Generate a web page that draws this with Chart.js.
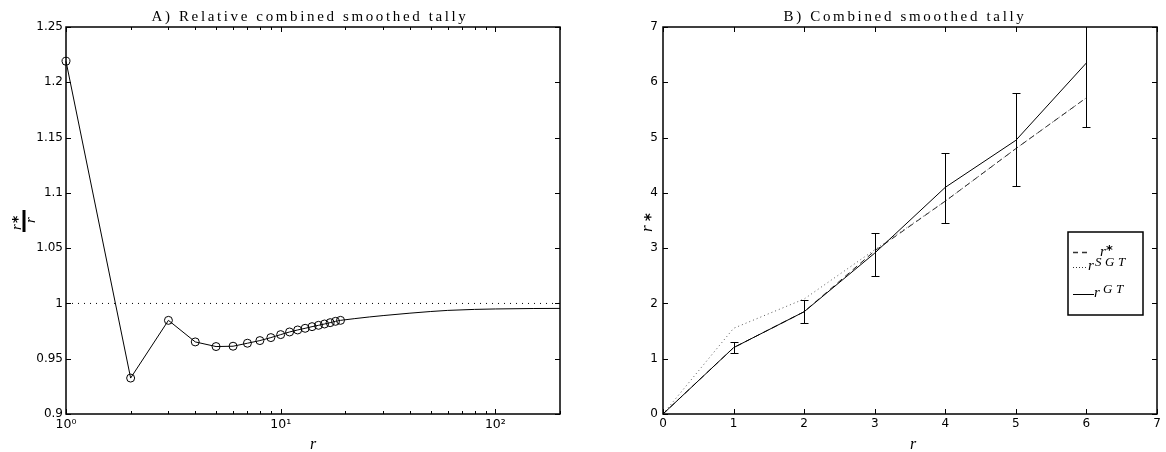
<!DOCTYPE html>
<html>
<head>
<meta charset="utf-8">
<script src="https://cdn.jsdelivr.net/npm/chart.js@4.4.1/dist/chart.umd.min.js"></script>
<style>
html, body { margin: 0; padding: 0; background: #fff; }
#wrap { position: relative; width: 1166px; height: 452px; }
.panel { position: absolute; top: 0; width: 583px; height: 452px; }
</style>
</head>
<body>
<div id="wrap">
  <div class="panel" style="left:0"><canvas id="chartA"></canvas></div>
  <div class="panel" style="left:583px"><canvas id="chartB"></canvas></div>
</div>
<script>
// ---- panel A: relative combined smoothed tally (r*/r against r, log x)
var titleA = 'A) Relative combined smoothed tally';
var rObs = [1, 2, 3, 4, 5, 6, 7, 8, 9, 10, 11, 12, 13, 14, 15, 16, 17, 18, 19];
var ratioObs = [1.219, 0.9325, 0.9847, 0.9652, 0.961, 0.9613, 0.964, 0.9664, 0.9691, 0.9718,
                0.9742, 0.976, 0.9775, 0.979, 0.9802, 0.9814, 0.9826, 0.9838, 0.9847];
var rTail = [19, 22, 26, 30, 40, 50, 60, 80, 100, 150, 200];
var ratioTail = [0.9847, 0.9862, 0.9878, 0.989, 0.9912, 0.9927, 0.9937, 0.9946, 0.995, 0.9954, 0.9955];
var refX = [1, 200];
var refY = [1, 1];
var xTicksA = [1, 2, 3, 4, 5, 6, 7, 8, 9, 10, 20, 30, 40, 50, 60, 70, 80, 90, 100, 200];
var xMajorA = [1, 10, 100];
var xMajorLabelsA = ['10\u2070', '10\u00b9', '10\u00b2'];

// ---- panel B: combined smoothed tally
var titleB = 'B) Combined smoothed tally';
var rB = [0, 1, 2, 3, 4, 5, 6];
var rStar = [0, 1.2, 1.85, 2.95, 3.85, 4.8, 5.72];
var rSGT = [0, 1.55, 2.08, 2.97, 3.85, 4.8, 5.72];
var rGT = [0, 1.2, 1.85, 2.91, 4.1, 4.95, 6.35];
var gtLow = [null, 1.1, 1.64, 2.5, 3.46, 4.12, 5.19];
var gtHigh = [null, 1.31, 2.06, 3.28, 4.72, 5.8, 7.51];

Chart.defaults.font.family = '"DejaVu Sans", sans-serif';
Chart.defaults.font.size = 12;
Chart.defaults.color = '#000';

function pts(xs, ys) {
  return xs.map(function (x, i) { return { x: x, y: ys[i] }; });
}

function fitText(ctx, str, cx, y, width) {
  ctx.letterSpacing = '0px';
  var w = ctx.measureText(str).width;
  var sp = (width - w) / str.length;
  ctx.letterSpacing = sp + 'px';
  ctx.textAlign = 'left';
  ctx.fillText(str, cx - width / 2, y);
  ctx.letterSpacing = '0px';
}

// matlab style box with inward tick marks on all four sides
var frameTicks = {
  id: 'frameTicks',
  afterDraw: function (chart) {
    var ctx = chart.ctx, a = chart.chartArea;
    var xs = chart.scales.x, ys = chart.scales.y;
    ctx.save();
    ctx.strokeStyle = '#000';
    ctx.lineWidth = 1;
    ctx.beginPath();
    xs.ticks.forEach(function (t) {
      var px = Math.round(xs.getPixelForValue(t.value)) + 0.5;
      var len = 5;
      if (xs.type === 'logarithmic') {
        var e = Math.log10(t.value);
        len = Math.abs(e - Math.round(e)) < 1e-9 ? 5 : 3;
      }
      ctx.moveTo(px, a.bottom); ctx.lineTo(px, a.bottom - len);
      ctx.moveTo(px, a.top); ctx.lineTo(px, a.top + len);
    });
    ys.ticks.forEach(function (t) {
      var py = Math.round(ys.getPixelForValue(t.value)) + 0.5;
      ctx.moveTo(a.left, py); ctx.lineTo(a.left + 5, py);
      ctx.moveTo(a.right, py); ctx.lineTo(a.right - 5, py);
    });
    ctx.stroke();
    ctx.lineWidth = 1.5;
    ctx.strokeRect(a.left, a.top, a.right - a.left, a.bottom - a.top);
    ctx.restore();
  }
};

var errorBars = {
  id: 'errorBars',
  afterDatasetsDraw: function (chart) {
    var ctx = chart.ctx, a = chart.chartArea;
    var xs = chart.scales.x, ys = chart.scales.y;
    ctx.save();
    ctx.beginPath();
    ctx.rect(a.left, a.top, a.right - a.left, a.bottom - a.top);
    ctx.clip();
    ctx.strokeStyle = '#000';
    ctx.lineWidth = 1;
    ctx.beginPath();
    rB.forEach(function (x, i) {
      if (gtLow[i] === null) return;
      var px = Math.round(xs.getPixelForValue(x)) + 0.5;
      var lo = Math.round(ys.getPixelForValue(gtLow[i])) + 0.5;
      var hi = Math.round(ys.getPixelForValue(gtHigh[i])) + 0.5;
      ctx.moveTo(px, lo); ctx.lineTo(px, hi);
      ctx.moveTo(px - 4, lo); ctx.lineTo(px + 4, lo);
      ctx.moveTo(px - 4, hi); ctx.lineTo(px + 4, hi);
    });
    ctx.stroke();
    ctx.restore();
  }
};

var labelsA = {
  id: 'labelsA',
  afterDraw: function (chart) {
    var ctx = chart.ctx;
    ctx.save();
    ctx.fillStyle = '#000';
    ctx.textBaseline = 'alphabetic';
    ctx.font = '15px "Liberation Serif"';
    fitText(ctx, titleA, 310, 21, 317);
    ctx.font = 'italic 16px "Liberation Serif"';
    ctx.textAlign = 'center';
    ctx.fillText('r', 313, 449);
    // y label r*/r, rotated
    ctx.translate(24, 221);
    ctx.rotate(-Math.PI / 2);
    ctx.fillRect(-11, -1.5, 22, 3);
    ctx.textAlign = 'left';
    ctx.font = 'italic 15px "Liberation Serif"';
    ctx.fillText('r', -9, -3);
    ctx.fillText('r', -2, 11);
    ctx.font = 'bold 14px "DejaVu Sans"';
    ctx.fillText('*', -2, -2);
    ctx.restore();
  }
};

var labelsB = {
  id: 'labelsB',
  afterDraw: function (chart) {
    var ctx = chart.ctx;
    ctx.save();
    ctx.fillStyle = '#000';
    ctx.strokeStyle = '#000';
    ctx.textBaseline = 'alphabetic';
    ctx.font = '15px "Liberation Serif"';
    fitText(ctx, titleB, 322, 21, 243);
    ctx.font = 'italic 16px "Liberation Serif"';
    ctx.textAlign = 'center';
    ctx.fillText('r', 330, 449);

    // legend box
    ctx.textAlign = 'left';
    ctx.lineWidth = 1.5;
    ctx.strokeRect(485, 232, 75, 83);
    ctx.strokeStyle = '#333';
    ctx.lineWidth = 1.3;
    ctx.setLineDash([5, 4]);
    ctx.beginPath(); ctx.moveTo(490, 252.5); ctx.lineTo(505, 252.5); ctx.stroke();
    ctx.lineWidth = 1;
    ctx.setLineDash([1, 2]);
    ctx.beginPath(); ctx.moveTo(490, 267.5); ctx.lineTo(503, 267.5); ctx.stroke();
    ctx.setLineDash([]);
    ctx.strokeStyle = '#000';
    ctx.beginPath(); ctx.moveTo(490, 294.5); ctx.lineTo(511, 294.5); ctx.stroke();
    ctx.font = 'italic 15px "Liberation Serif"';
    ctx.fillText('r', 517, 256);
    ctx.fillText('r', 505, 270);
    ctx.fillText('r', 511, 297);
    ctx.font = 'bold 13px "DejaVu Sans"';
    ctx.fillText('*', 523, 254);
    ctx.font = 'italic 13px "Liberation Serif"';
    ctx.letterSpacing = '3.5px';
    ctx.fillText('SGT', 512, 266);
    ctx.fillText('GT', 520, 293);
    ctx.letterSpacing = '0px';

    // y label r*
    ctx.translate(64, 220);
    ctx.rotate(-Math.PI / 2);
    ctx.font = 'italic 17px "Liberation Serif"';
    ctx.fillText('r', -12, 5);
    ctx.font = 'bold 15px "DejaVu Sans"';
    ctx.fillText('*', -1, 9);
    ctx.restore();
  }
};

new Chart(document.getElementById('chartA'), {
  type: 'scatter',
  data: {
    datasets: [
      {
        data: pts(refX, refY),
        showLine: true,
        borderColor: '#000',
        borderWidth: 1,
        borderDash: [1, 5],
        pointRadius: 0
      },
      {
        data: pts(rTail, ratioTail),
        showLine: true,
        borderColor: '#000',
        borderWidth: 1,
        pointRadius: 0
      },
      {
        data: pts(rObs, ratioObs),
        showLine: true,
        borderColor: '#000',
        borderWidth: 1,
        pointRadius: 4,
        pointBorderWidth: 1,
        pointBorderColor: '#000',
        pointBackgroundColor: 'rgba(0,0,0,0)',
        clip: false
      }
    ]
  },
  options: {
    responsive: true,
    maintainAspectRatio: false,
    animation: false,
    layout: { padding: { left: 0, right: 23, top: 27, bottom: 0 } },
    plugins: { legend: { display: false }, tooltip: { enabled: false } },
    scales: {
      x: {
        type: 'logarithmic',
        min: 1,
        max: 200,
        grid: { display: false, drawTicks: false },
        border: { display: false },
        afterBuildTicks: function (s) {
          s.ticks = xTicksA.map(function (v) { return { value: v }; });
        },
        afterFit: function (s) { s.height = 38; },
        ticks: {
          autoSkip: false,
          maxRotation: 0,
          padding: 3,
          font: { size: 12.5 },
          callback: function (v) {
            var k = xMajorA.indexOf(v);
            return k >= 0 ? xMajorLabelsA[k] : '';
          }
        }
      },
      y: {
        min: 0.9,
        max: 1.25,
        grid: { display: false, drawTicks: false },
        border: { display: false },
        afterFit: function (s) { s.width = 66; },
        ticks: {
          stepSize: 0.05,
          padding: 3,
          callback: function (v) { return String(Number(v.toFixed(2))); }
        }
      }
    }
  },
  plugins: [frameTicks, labelsA]
});

new Chart(document.getElementById('chartB'), {
  type: 'scatter',
  data: {
    datasets: [
      {
        data: pts(rB, rGT),
        showLine: true,
        borderColor: '#000',
        borderWidth: 1,
        pointRadius: 0
      },
      {
        data: pts(rB, rSGT),
        showLine: true,
        borderColor: '#555',
        borderWidth: 1,
        borderDash: [1, 3],
        pointRadius: 0
      },
      {
        data: pts(rB, rStar),
        showLine: true,
        borderColor: '#222',
        borderWidth: 1,
        borderDash: [6, 4],
        pointRadius: 0
      }
    ]
  },
  options: {
    responsive: true,
    maintainAspectRatio: false,
    animation: false,
    layout: { padding: { left: 0, right: 9, top: 27, bottom: 0 } },
    plugins: { legend: { display: false }, tooltip: { enabled: false } },
    scales: {
      x: {
        type: 'linear',
        min: 0,
        max: 7,
        grid: { display: false, drawTicks: false },
        border: { display: false },
        afterFit: function (s) { s.height = 38; },
        ticks: { stepSize: 1, maxRotation: 0, padding: 3 }
      },
      y: {
        min: 0,
        max: 7,
        grid: { display: false, drawTicks: false },
        border: { display: false },
        afterFit: function (s) { s.width = 80; },
        ticks: { stepSize: 1, padding: 5 }
      }
    }
  },
  plugins: [frameTicks, errorBars, labelsB]
});
</script>
</body>
</html>
